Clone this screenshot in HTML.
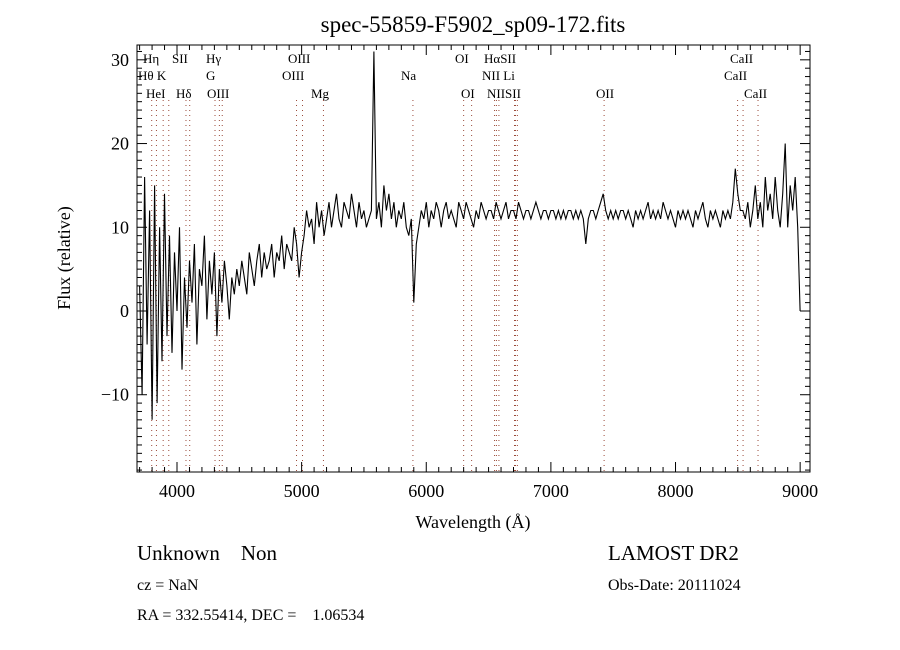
<!DOCTYPE html>
<html><head><meta charset="utf-8"><style>
html,body{margin:0;padding:0;background:#fff;}
svg{display:block;}
text{font-family:"Liberation Serif",serif;fill:#000;white-space:pre;}
</style></head><body>
<svg id="chart" width="900" height="650" viewBox="0 0 900 650" xmlns="http://www.w3.org/2000/svg">
<rect x="0" y="0" width="900" height="650" fill="#fff"/>
<text x="473" y="32" font-size="23" text-anchor="middle">spec-55859-F5902_sp09-172.fits</text>
<text x="0" y="0" font-size="18" text-anchor="middle" transform="translate(70,258) rotate(-90)">Flux (relative)</text>
<text x="473" y="528" font-size="18" text-anchor="middle">Wavelength (Å)</text>
<text x="137" y="560" font-size="21" xml:space="preserve">Unknown    Non</text>
<text x="137" y="590" font-size="16">cz = NaN</text>
<text x="137" y="620" font-size="16" xml:space="preserve">RA = 332.55414, DEC =    1.06534</text>
<text x="608" y="560" font-size="21">LAMOST DR2</text>
<text x="608" y="590" font-size="16">Obs-Date: 20111024</text>
<g id="lines"></g>
<g id="series"></g>
<g id="axes"></g>
</svg>
<script>
const fluxStart = 3700;
const fluxStep = 20;
const fluxValues = [
3,-10,16,-4,12,-13,15,-11,10,-6,14,
-3,9,-5,7,0,10,-7,4,-2,6,1,8,-4,5,3,9,-1,6,2,7,
-3,5,1,6,3,-1,4,2,5,3,6,4,2,7,5,3,6,8,4,7,5,6,8,4,7,6,9,5,8,7,6,10,8,4,7,
9,12,10,11,8,13,10,12,9,11,13,10,12,14,11,10,13,12,11,14,12,10,13,11,12,10,11,12,
31,
11,13,10,15,12,14,11,13,10,12,11,13,10,9,11,
1,
8,10,12,11,13,10,12,11,13,12,10,12,13,11,12,11,10,13,12,11,13,12,11,10,12,11,13,12,11,12,
12,11,13,12,11,12,13,11,12,12,11,13,12,11,12,12,11,12,13,12,11,12,12,11,12,12,11,12,11,12,11,12,12,11,12,11,12,11,
8,
11,12,12,11,12,13,14,12,11,12,11,12,11,12,12,11,12,11,10,12,11,12,11,12,13,11,12,11,12,11,13,12,11,12,11,10,12,11,12,11,12,11,10,12,11,12,13,11,10,12,11,12,11,10,12,11,12,
11,13,17,14,12,
12,11,13,10,12,15,11,13,10,16,12,14,11,16,12,10,14,20,10,15,12,16,10,
0
];
const lineWaves = [3797,3835,3889,3934,4072,4102,4305,4340,4363,4959,5007,5175,5893,6300,6364,6548,6563,6583,6708,6716,6731,7427,8498,8542,8662];
const lineLabels = ["Hη","Hθ K","HeI","SII","Hδ","Hγ","G","OIII","OIII","OIII","Mg","Na","OI","OI","HαSII","NII Li","NIISII","OII","CaII","CaII","CaII"];
const labelPos = [[143,63],[138,80],[146,98],[172,63],[176,98],[206,63],[206,80],[207,98],[288,63],[282,80],[311,98],[401,80],[455,63],[461,98],[484,63],[482,80],[487,98],[596,98],[730,63],[724,80],[744,98]];
const xTicks = [4000,5000,6000,7000,8000,9000];
const yTicks = [-10,0,10,20,30];

const X0=137,X1=810,Y0=45,Y1=472;
const xmin=3680, xmax=9080, ymin=-19.2, ymax=31.8;
const xs = w => 177 + (w-4000)*(X1-X0)/(xmax-xmin);
const ys = f => 311 - f*(Y1-Y0)/(ymax-ymin);
const NS="http://www.w3.org/2000/svg";
function mk(tag, attrs, parent){const e=document.createElementNS(NS,tag);for(const k in attrs)e.setAttribute(k,attrs[k]);parent.appendChild(e);return e;}

const gl=document.getElementById('lines');
lineWaves.forEach(w=>{
  const l=mk('line',{x1:xs(w),x2:xs(w),y1:100,y2:Y1,stroke:'#9a4a3a','stroke-width':1,'stroke-dasharray':'1,4'},gl);
  
  
});
lineLabels.forEach((t,i)=>{
  const e=mk('text',{x:labelPos[i][0],y:labelPos[i][1],'font-size':13},gl);
  e.textContent=t;
  
  
});

const gs=document.getElementById('series');
let d='';
fluxValues.forEach((f,i)=>{const w=fluxStart+i*fluxStep;d+=(i?'L':'M')+xs(w).toFixed(1)+','+ys(f).toFixed(1);});
const p=mk('path',{d:d,fill:'none',stroke:'#000','stroke-width':1.1},gs);



const ga=document.getElementById('axes');
const fr=mk('rect',{x:X0,y:Y0,width:X1-X0,height:Y1-Y0,fill:'none',stroke:'#000','stroke-width':1},ga);


for(let w=3700;w<=9000;w+=100){
  const major=w%1000===0, len=major?10:5;
  mk('line',{x1:xs(w),x2:xs(w),y1:Y1,y2:Y1-len,stroke:'#000'},ga);
  mk('line',{x1:xs(w),x2:xs(w),y1:Y0,y2:Y0+len,stroke:'#000'},ga);
}
for(let f=-19;f<=31;f+=1){
  const major=f%10===0, len=major?10:5;
  mk('line',{x1:X0,x2:X0+len,y1:ys(f),y2:ys(f),stroke:'#000'},ga);
  mk('line',{x1:X1,x2:X1-len,y1:ys(f),y2:ys(f),stroke:'#000'},ga);
}
xTicks.forEach(v=>{
  const t=mk('text',{x:xs(v),y:Y1+25,'font-size':18,'text-anchor':'middle'},ga);
  t.textContent=String(v);
  
  
});
yTicks.forEach(v=>{
  const t=mk('text',{x:X0-8,y:ys(v)+6,'font-size':18,'text-anchor':'end'},ga);
  t.textContent=v<0?'−'+Math.abs(v):String(v);
  
  
});
</script>
</body></html>
